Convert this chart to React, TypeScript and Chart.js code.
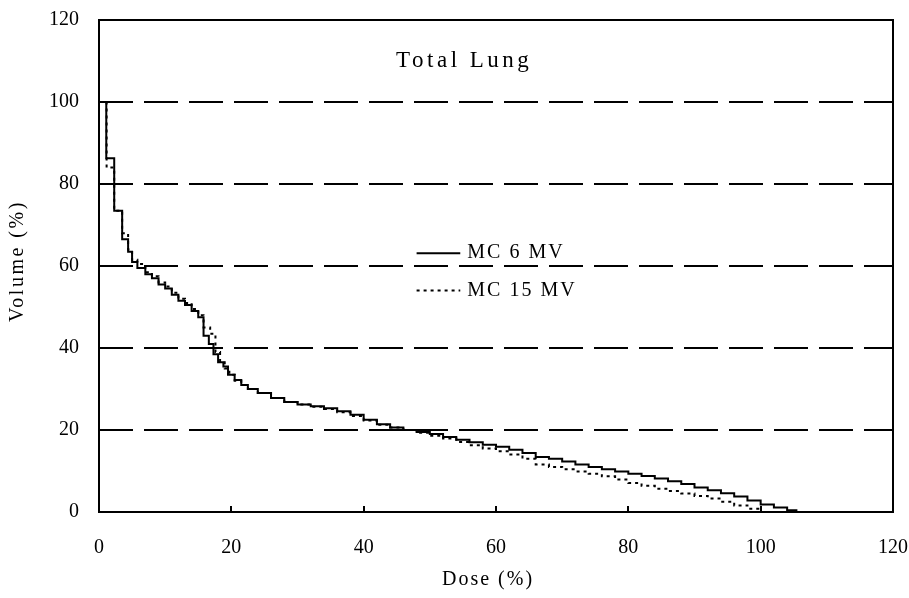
import React, { useEffect, useRef } from "react";
import { Chart, registerables } from "chart.js";

Chart.register(...registerables);

const FONT = "'Liberation Serif', 'Times New Roman', serif";

const TITLE = "Total Lung";
const X_TITLE = "Dose (%)";
const Y_TITLE = "Volume (%)";
const SERIES_LABELS = ["MC 6 MV", "MC 15 MV"];
const X_TICKS = [0, 20, 40, 60, 80, 100, 120];
const Y_TICKS = [0, 20, 40, 60, 80, 100, 120];

const dose6 = [0, 1.1, 2.3, 3.5, 4.4, 5.0, 5.8, 7, 8, 9, 10, 11, 12, 13, 14, 15, 15.8, 16.6, 17.3, 18, 18.8, 19.5, 20.5, 21.5, 22.5, 24, 26, 28, 30, 32, 34, 36, 38, 40, 42, 44, 46, 48, 50, 52, 54, 56, 58, 60, 62, 64, 66, 68, 70, 72, 74, 76, 78, 80, 82, 84, 86, 88, 90, 92, 94, 96, 98, 100, 102, 104, 105.4];
const vol6 = [100, 86.3, 73.5, 66.5, 63.5, 61, 59.5, 58, 57, 55.5, 54.5, 53, 51.5, 50.5, 49, 47.5, 43, 41, 38.5, 36.5, 35.5, 33.5, 32.2, 31, 30, 29, 27.8, 26.8, 26.2, 25.8, 25.3, 24.6, 23.7, 22.5, 21.4, 20.6, 20, 19.5, 19, 18.3, 17.6, 17, 16.4, 15.9, 15.2, 14.4, 13.4, 13.0, 12.3, 11.6, 11.0, 10.4, 9.9, 9.3, 8.8, 8.2, 7.5, 6.8, 6.0, 5.3, 4.6, 3.8, 2.8, 1.8, 1.1, 0.4, 0];

const dose15 = [0, 1.15, 2.3, 3.5, 4.4, 5.0, 5.8, 7, 8, 9, 10, 11, 12, 13, 14, 15, 15.8, 16.8, 17.6, 18.3, 19, 19.7, 20.5, 21.5, 22.5, 24, 26, 28, 30, 32, 34, 36, 38, 40, 42, 44, 46, 48, 50, 52, 54, 56, 58, 60, 62, 64, 66, 68, 70, 72, 74, 76, 78, 80, 82, 84, 86, 88, 90, 92, 94, 96, 98, 100];
const vol15 = [100, 84, 73.5, 68, 64, 61.5, 60.5, 58.5, 57.5, 56, 55, 53.5, 52, 51, 49.5, 48, 45, 43.5, 39, 36.5, 35, 33.5, 32, 31, 30, 29, 27.8, 26.8, 26.2, 25.7, 25.1, 24.3, 23.4, 22.3, 21.3, 20.6, 20, 19.3, 18.6, 17.9, 17.1, 16.3, 15.5, 14.8, 14.0, 13.0, 11.6, 11.0, 10.4, 9.9, 9.3, 8.7, 7.9, 7.1, 6.4, 5.7, 5.1, 4.5, 3.9, 3.3, 2.5, 1.6, 0.8, 0];

const toPoints = (xs: number[], ys: number[]) => xs.map((x, i) => ({ x, y: ys[i] }));

const overlay = {
  id: "overlay",
  afterDraw(chart: any) {
    const { ctx, chartArea: a, scales } = chart;
    const xs = scales.x;
    const w = a.right - a.left;
    const h = a.bottom - a.top;
    ctx.save();
    ctx.strokeStyle = "#000";
    ctx.fillStyle = "#000";
    ctx.lineWidth = 2;
    ctx.setLineDash([]);
    ctx.strokeRect(a.left, a.top, w, h);
    // inward tick marks
    ctx.beginPath();
    for (const t of xs.ticks) {
      const px = Math.round(xs.getPixelForValue(t.value));
      ctx.moveTo(px, a.bottom);
      ctx.lineTo(px, a.bottom - 6);
    }
    ctx.stroke();

    // title
    ctx.font = `23px ${FONT}`;
    (ctx as any).letterSpacing = "3.5px";
    ctx.textAlign = "center";
    ctx.textBaseline = "middle";
    ctx.fillText(TITLE, a.left + 0.46 * w, a.top + 0.083 * h);

    // axis titles
    ctx.font = `20px ${FONT}`;
    (ctx as any).letterSpacing = "2px";
    ctx.fillText(X_TITLE, a.left + 0.49 * w, 580);
    ctx.save();
    ctx.translate(18, a.top + 0.49 * h);
    ctx.rotate(-Math.PI / 2);
    (ctx as any).letterSpacing = "2.5px";
    ctx.fillText(Y_TITLE, 0, 0);
    ctx.restore();

    // legend
    const ds = chart.data.datasets;
    const lx0 = a.left + 0.4 * w;
    const lx1 = a.left + 0.455 * w;
    const rows = [a.top + 0.474 * h, a.top + 0.55 * h];
    ctx.textAlign = "left";
    (ctx as any).letterSpacing = "2px";
    ds.forEach((d: any, i: number) => {
      const y = rows[i];
      ctx.save();
      ctx.lineWidth = d.borderWidth;
      ctx.setLineDash(d.borderDash || []);
      ctx.beginPath();
      ctx.moveTo(lx0, y);
      ctx.lineTo(lx1, y);
      ctx.stroke();
      ctx.restore();
      ctx.fillText(d.label, lx1 + 7, y);
    });
    ctx.restore();
  },
};

export default function App() {
  const ref = useRef<HTMLCanvasElement | null>(null);
  useEffect(() => {
    if (!ref.current) return;
    const chart = new Chart(ref.current, {
      type: "line",
      data: {
        datasets: [
          {
            label: SERIES_LABELS[0],
            data: toPoints(dose6, vol6),
            borderColor: "#000",
            borderWidth: 2,
            pointRadius: 0,
            stepped: "before",
            fill: false,
          },
          {
            label: SERIES_LABELS[1],
            data: toPoints(dose15, vol15),
            borderColor: "#000",
            borderWidth: 2,
            borderDash: [3, 4],
            pointRadius: 0,
            stepped: "before",
            fill: false,
          },
        ],
      },
      options: {
        animation: false,
        responsive: false,
        devicePixelRatio: 1,
        layout: { padding: { top: 20, right: 16, left: 0, bottom: 0 } },
        plugins: { legend: { display: false }, tooltip: { enabled: false }, title: { display: false } },
        scales: {
          x: {
            type: "linear",
            min: 0,
            max: 120,
            afterBuildTicks: (s: any) => { s.ticks = X_TICKS.map((v) => ({ value: v })); },
            afterFit: (s: any) => { s.height = 86; s.paddingLeft = 0; s.paddingRight = 0; s.paddingTop = 0; s.paddingBottom = 0; },
            grid: { display: false, drawTicks: false },
            border: { display: false },
            ticks: { color: "#000", padding: 24, maxRotation: 0, font: { family: FONT, size: 20 } },
          },
          y: {
            type: "linear",
            min: 0,
            max: 120,
            afterBuildTicks: (s: any) => { s.ticks = Y_TICKS.map((v) => ({ value: v })); },
            afterFit: (s: any) => { s.width = 99; s.paddingLeft = 0; s.paddingRight = 0; s.paddingTop = 0; s.paddingBottom = 0; },
            grid: {
              drawTicks: false,
              lineWidth: 2,
              color: (c: any) => (c.tick && (c.tick.value === 0 || c.tick.value === 120) ? "rgba(0,0,0,0)" : "#000"),
            },
            border: { display: false, dash: [34, 11] },
            ticks: { color: "#000", padding: 20, font: { family: FONT, size: 20 } },
          },
        },
      },
      plugins: [overlay],
    });
    return () => chart.destroy();
  }, []);
  return (
    <div style={{ position: "absolute", left: 0, top: 0, width: 909, height: 598, background: "#fff" }}>
      <canvas ref={ref} width={909} height={598} style={{ display: "block" }} />
    </div>
  );
}
